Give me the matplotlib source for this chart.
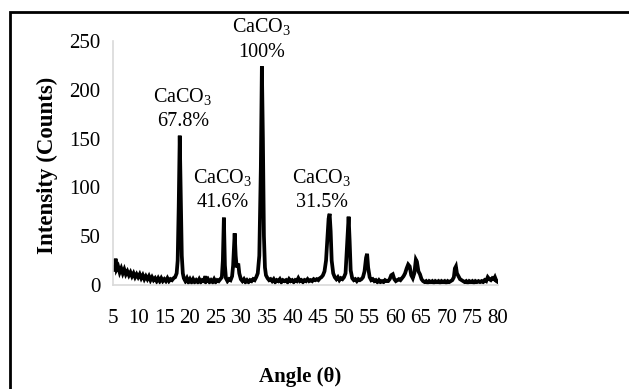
import matplotlib
matplotlib.use("Agg")
import matplotlib.pyplot as plt
from matplotlib.patches import Rectangle

plt.rcParams['font.family'] = ['Liberation Serif', 'DejaVu Serif']
plt.rcParams['mathtext.fontset'] = 'custom'
plt.rcParams['mathtext.rm'] = 'Liberation Serif'
plt.rcParams['mathtext.it'] = 'Liberation Serif:italic'

# diffraction pattern (angle, counts)
angles = [
    5.0, 5.3, 5.5, 5.7, 6.0, 6.3, 6.6, 6.9, 7.2, 7.5,
    7.8, 8.1, 8.4, 8.7, 9.0, 9.3, 9.6, 9.9, 10.2, 10.5,
    10.8, 11.1, 11.4, 11.7, 12.0, 12.3, 12.6, 12.9, 13.2, 13.5,
    13.8, 14.1, 14.4, 14.7, 15.0, 15.3, 15.6, 15.9, 16.2, 16.5,
    16.8, 17.1, 17.4, 17.6, 17.8, 18.0, 18.2, 18.4, 18.6, 18.8,
    19.1, 19.4, 19.7, 20.0, 20.3, 20.6, 20.9, 21.2, 21.5, 21.8,
    22.1, 22.4, 22.7, 23.0, 23.2, 23.5, 23.8, 24.1, 24.4, 24.7,
    25.0, 25.3, 25.6, 25.9, 26.2, 26.4, 26.6, 26.8, 27.0, 27.3,
    27.6, 27.9, 28.2, 28.4, 28.7, 28.9, 29.1, 29.4, 29.6, 29.9,
    30.2, 30.5, 30.8, 31.1, 31.4, 31.7, 32.0, 32.3, 32.6, 32.9,
    33.2, 33.5, 33.8, 34.0, 34.2, 34.4, 34.6, 34.8, 35.1, 35.4,
    35.7, 36.0, 36.3, 36.6, 36.9, 37.2, 37.5, 37.8, 38.1, 38.4,
    38.7, 39.0, 39.3, 39.6, 39.9, 40.2, 40.5, 40.8, 41.1, 41.4,
    41.7, 42.0, 42.3, 42.6, 42.9, 43.2, 43.5, 43.8, 44.1, 44.4,
    44.7, 45.0, 45.3, 45.6, 45.9, 46.2, 46.5, 46.8, 47.0, 47.2,
    47.4, 47.6, 47.9, 48.2, 48.5, 48.8, 49.1, 49.4, 49.7, 50.0,
    50.3, 50.6, 50.9, 51.1, 51.3, 51.6, 51.9, 52.2, 52.5, 52.8,
    53.1, 53.4, 53.7, 54.0, 54.3, 54.5, 54.7, 55.0, 55.3, 55.6,
    55.9, 56.2, 56.5, 56.8, 57.1, 57.4, 57.7, 58.0, 58.3, 58.6,
    58.9, 59.2, 59.5, 59.8, 60.1, 60.4, 60.7, 61.0, 61.3, 61.6,
    61.9, 62.2, 62.5, 62.8, 63.1, 63.4, 63.7, 64.0, 64.2, 64.5,
    64.8, 65.1, 65.4, 65.7, 66.0, 66.3, 66.6, 66.9, 67.2, 67.5,
    67.8, 68.1, 68.4, 68.7, 69.0, 69.3, 69.6, 69.9, 70.2, 70.5,
    70.8, 71.1, 71.4, 71.6, 71.8, 72.0, 72.3, 72.6, 72.9, 73.2,
    73.5, 73.8, 74.1, 74.4, 74.7, 75.0, 75.3, 75.6, 75.9, 76.2,
    76.5, 76.8, 77.1, 77.4, 77.7, 78.0, 78.3, 78.6, 78.9, 79.2,
    79.4, 79.7, 80.0,
]
counts = [
    18, 14, 27, 16, 19, 13, 17, 12, 16, 11,
    14, 10, 13, 9, 12, 8, 11, 8, 11, 7,
    10, 6, 9, 6, 9, 5, 8, 5, 7, 4,
    7, 4, 7, 4, 6, 4, 7, 4, 6, 5,
    7, 8, 12, 25, 80, 153, 90, 30, 12, 7,
    4, 7, 3, 6, 3, 6, 3, 5, 3, 6,
    3, 5, 4, 9, 4, 6, 3, 5, 3, 6,
    3, 5, 4, 6, 8, 25, 69, 20, 7, 4,
    6, 5, 9, 20, 53, 30, 18, 22, 12, 6,
    4, 6, 3, 5, 3, 5, 4, 6, 5, 8,
    12, 30, 120, 224, 150, 50, 18, 10, 7, 5,
    6, 4, 6, 3, 5, 4, 6, 3, 5, 4,
    5, 3, 6, 4, 5, 3, 5, 4, 7, 4,
    5, 3, 5, 4, 6, 4, 5, 4, 6, 5,
    6, 5, 7, 8, 10, 14, 25, 50, 68, 73,
    55, 25, 12, 8, 6, 8, 5, 7, 6, 8,
    12, 40, 70, 45, 15, 7, 5, 6, 4, 6,
    5, 6, 8, 14, 28, 32, 18, 8, 5, 6,
    4, 5, 3, 5, 3, 4, 3, 5, 4, 4,
    6, 10, 11, 6, 4, 5, 6, 5, 7, 9,
    12, 17, 21, 19, 10, 7, 12, 26, 24, 14,
    11, 6, 4, 3, 4, 2, 4, 3, 4, 2,
    4, 3, 4, 2, 4, 3, 4, 2, 4, 3,
    4, 5, 8, 17, 19, 12, 9, 6, 5, 4,
    3, 4, 2, 4, 3, 4, 2, 4, 3, 4,
    3, 4, 3, 5, 4, 8, 6, 5, 7, 6,
    8, 4, 3,
]

# peak labels
label_x = [18.6, 26.4, 34.0, 45.7]
label_y = [180, 97, 251, 97]
label_pct = ['67.8%', '41.6%', '100%', '31.5%']

x_ticks = list(range(5, 81, 5))
y_ticks = [0, 50, 100, 150, 200, 250]

fig = plt.figure(figsize=(6.29, 3.89), dpi=100)
ax = fig.add_axes([113 / 629, 1 - 285 / 389, 385 / 629, 244 / 389])

ax.plot(angles, counts, color='black', lw=2.7, solid_joinstyle='miter')

ax.set_xlim(5, 80)
ax.set_ylim(0, 250)
ax.set_xticks(x_ticks)
ax.set_yticks(y_ticks)
ax.tick_params(axis='both', length=0, labelsize=15)
ax.tick_params(axis='x', pad=17)
ax.tick_params(axis='y', pad=9)
for s in ['top', 'right']:
    ax.spines[s].set_visible(False)
for s in ['left', 'bottom']:
    ax.spines[s].set_color('#d9d9d9')
    ax.spines[s].set_linewidth(1.2)

for x, y, p in zip(label_x, label_y, label_pct):
    ax.annotate('CaCO$_3$', (x, y), xytext=(0, 9.5), textcoords='offset points',
                ha='center', va='center', fontsize=14.5, annotation_clip=False)
    ax.annotate(p, (x, y), xytext=(0, -9), textcoords='offset points',
                ha='center', va='center', fontsize=14.5, annotation_clip=False)

fig.text(300 / 629, 1 - 377 / 389, 'Angle (θ)', ha='center', va='center',
         fontsize=15, fontweight='bold')
fig.text(47 / 629, 1 - 165 / 389, 'Intensity (Counts)', ha='center', va='center',
         rotation=90, fontsize=16.5, fontweight='bold')

# outer border (cut off at right and bottom in the original)
fig.patches.append(Rectangle((10 / 629, -0.2), 1.2, 1.2 - 12 / 389,
                             transform=fig.transFigure, fill=False,
                             edgecolor='black', lw=2))

fig.savefig('out.png', dpi=100)
